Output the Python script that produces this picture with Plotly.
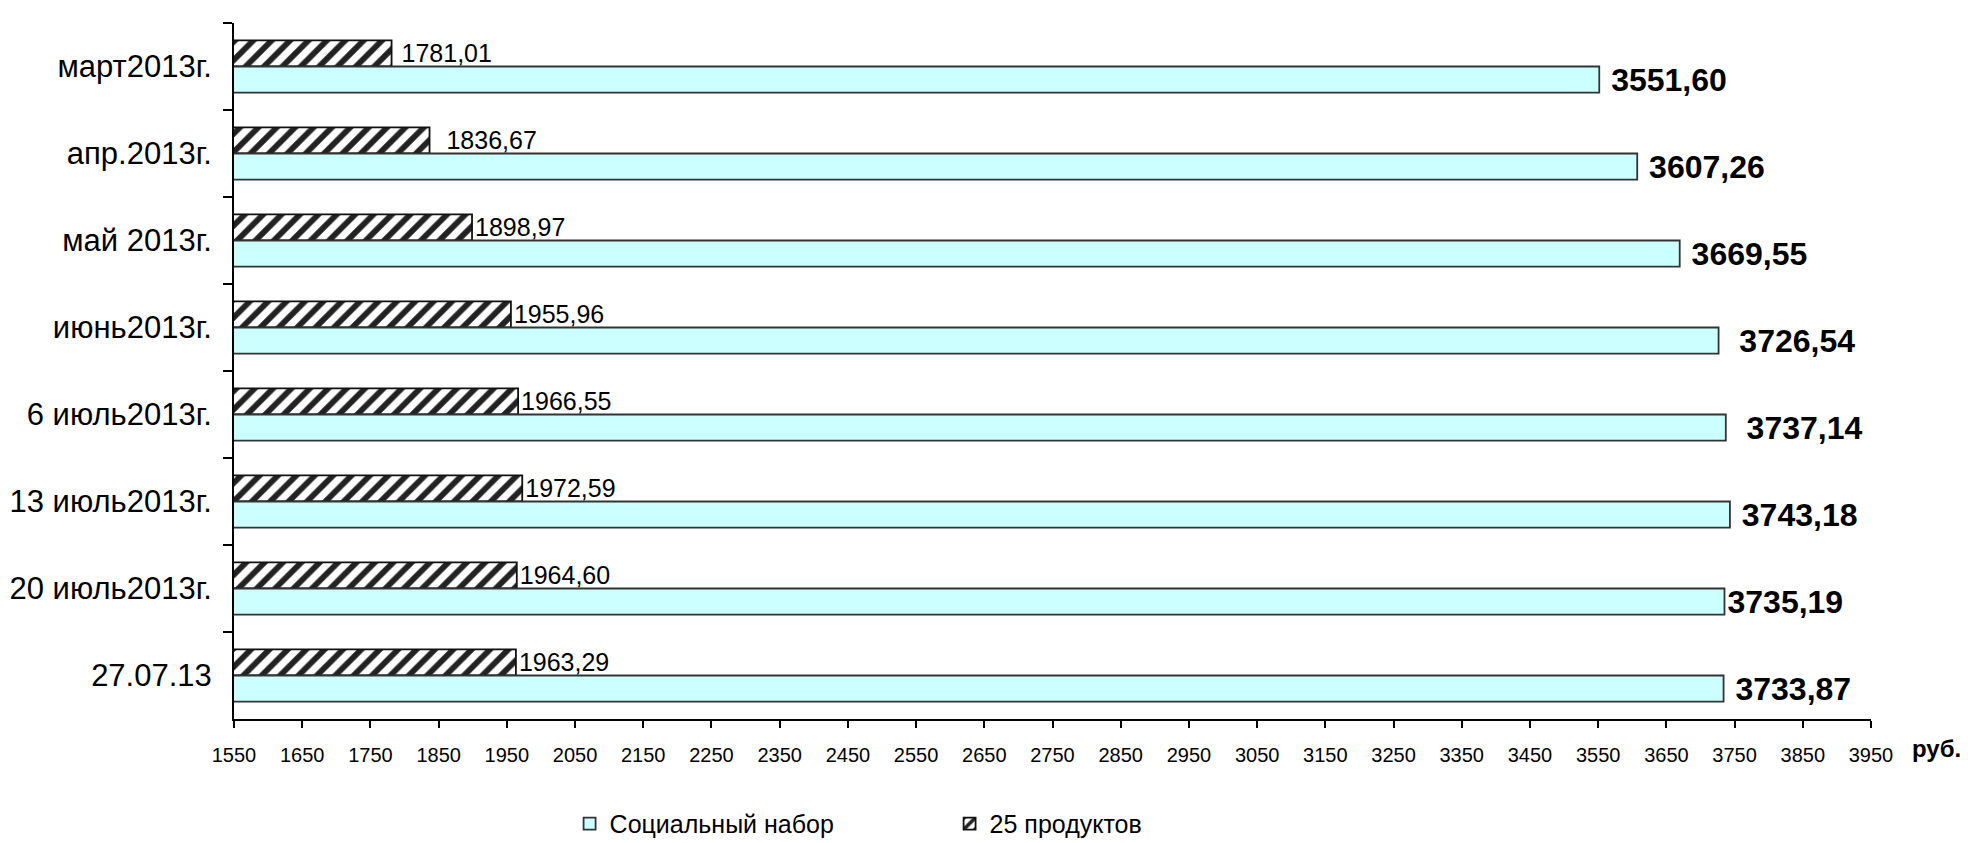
import plotly.graph_objects as go

categories = ["март2013г.", "апр.2013г.", "май 2013г.", "июнь2013г.",
              "6 июль2013г.", "13 июль2013г.", "20 июль2013г.", "27.07.13"]
social_set = [3551.60, 3607.26, 3669.55, 3726.54, 3737.14, 3743.18, 3735.19, 3733.87]
products_25 = [1781.01, 1836.67, 1898.97, 1955.96, 1966.55, 1972.59, 1964.60, 1963.29]
x_ticks = list(range(1550, 3951, 100))

# label offsets (number of non-breaking spaces before each data label)
pad_products = [1, 2, 0, 0, 0, 0, 0, 0]
pad_social = [1, 1, 1, 2, 2, 1, 0, 1]

def fmt(v):
    return f"{v:.2f}".replace(".", ",")

FONT = "Arial, Liberation Sans, sans-serif"
NB = "\u00a0"

fig = go.Figure()
fig.add_trace(go.Bar(
    name="25 продуктов", y=categories, x=products_25, orientation="h",
    marker=dict(color="white", line=dict(color="#111", width=1.8),
                pattern=dict(shape="/", fgcolor="#222", bgcolor="white", fgopacity=1,
                             size=13, solidity=0.45)),
    text=[NB * p + fmt(v) for v, p in zip(products_25, pad_products)],
    textposition="outside",
    textfont=dict(family=FONT, size=25, color="black"),
    constraintext="none", cliponaxis=False, legendrank=2,
))
fig.add_trace(go.Bar(
    name="Социальный набор", y=categories, x=social_set, orientation="h",
    marker=dict(color="#CCFFFF", line=dict(color="#333", width=1.8)),
    text=[NB * p + "<b>" + fmt(v) + "</b>" for v, p in zip(social_set, pad_social)],
    textposition="outside",
    textfont=dict(family=FONT, size=32, color="black"),
    constraintext="none", cliponaxis=False, legendrank=1,
))

fig.update_layout(
    width=1968, height=843,
    margin=dict(l=226, r=105, t=15, b=132, autoexpand=False),
    paper_bgcolor="white", plot_bgcolor="white",
    barmode="group", bargap=0.4, bargroupgap=0,
    font=dict(family=FONT, color="black"),
    showlegend=True,
    legend=dict(orientation="h", x=0.205, xanchor="left", yref="container", y=0.005,
                yanchor="bottom", font=dict(family=FONT, size=25), entrywidth=335,
                itemwidth=30, tracegroupgap=0),
    annotations=[dict(text="<b>руб.</b>", xref="paper", yref="paper", x=1.024, y=-0.042,
                      xanchor="left", yanchor="middle", showarrow=False,
                      font=dict(family=FONT, size=24, color="black"))],
)
fig.update_xaxes(range=[1550, 3950], tickvals=x_ticks, ticktext=[str(t) for t in x_ticks],
                 showgrid=False, zeroline=False, showline=True, linecolor="black", linewidth=2,
                 ticks="outside", ticklen=7, tickcolor="black", tickwidth=1.5,
                 tickfont=dict(family=FONT, size=20), ticklabelstandoff=10, automargin=False)
fig.update_yaxes(autorange="reversed", showgrid=False, zeroline=False, showline=True,
                 linecolor="black", linewidth=2, ticks="outside", ticklen=9, tickcolor="black",
                 tickwidth=1.5, tickson="boundaries", tickfont=dict(family=FONT, size=31),
                 ticklabelstandoff=14, automargin=False)

fig.write_html("out.html")
